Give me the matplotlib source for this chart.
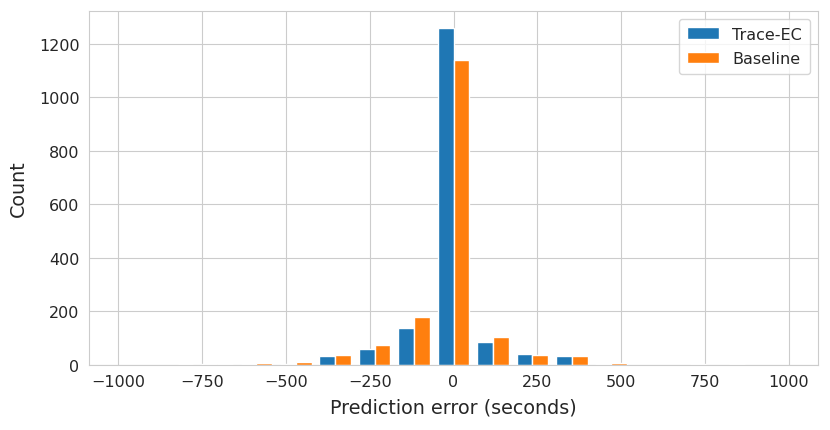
import numpy as np
import matplotlib
matplotlib.use("Agg")
import matplotlib.pyplot as plt
import seaborn as sns

# Histogram bins: 17 equal bins from -1000 to 1000 seconds
bin_edges = np.linspace(-1000, 1000, 18)
bin_centers = (bin_edges[:-1] + bin_edges[1:]) / 2

series_names = ["Trace-EC", "Baseline"]
trace_ec_counts = [0, 0, 1, 1, 2, 31, 60, 137, 1260, 84, 39, 31, 4, 0, 0, 0, 0]
baseline_counts = [0, 1, 4, 6, 10, 35, 72, 178, 1138, 103, 37, 34, 6, 0, 1, 1, 0]

sns.set_style("whitegrid")
plt.rcParams['font.family'] = ['DejaVu Sans']

fig = plt.figure(figsize=(8.3, 4.31), dpi=100)
ax = fig.add_axes([0.1076, 0.1515, 0.8776, 0.8214])

ax.hist([bin_centers, bin_centers], bins=bin_edges,
        weights=[trace_ec_counts, baseline_counts],
        color=["#1f77b4", "#ff7f0e"], label=series_names,
        edgecolor="white", linewidth=1.0)

ax.set_xlabel("Prediction error (seconds)", fontsize=13.8, color="#262626", labelpad=6)
ax.set_ylabel("Count", fontsize=13.8, color="#262626", labelpad=8)
ax.tick_params(axis="both", labelsize=11.5, colors="#262626")
ax.set_xticks(np.arange(-1000, 1001, 250))
for s in ax.spines.values():
    s.set_edgecolor("#cccccc")
ax.grid(True, color="#cccccc")
ax.legend(loc="upper right", fontsize=11.5, frameon=True, edgecolor="#cccccc",
          borderpad=0.5, labelspacing=0.6)

fig.savefig("out.png", dpi=100)
